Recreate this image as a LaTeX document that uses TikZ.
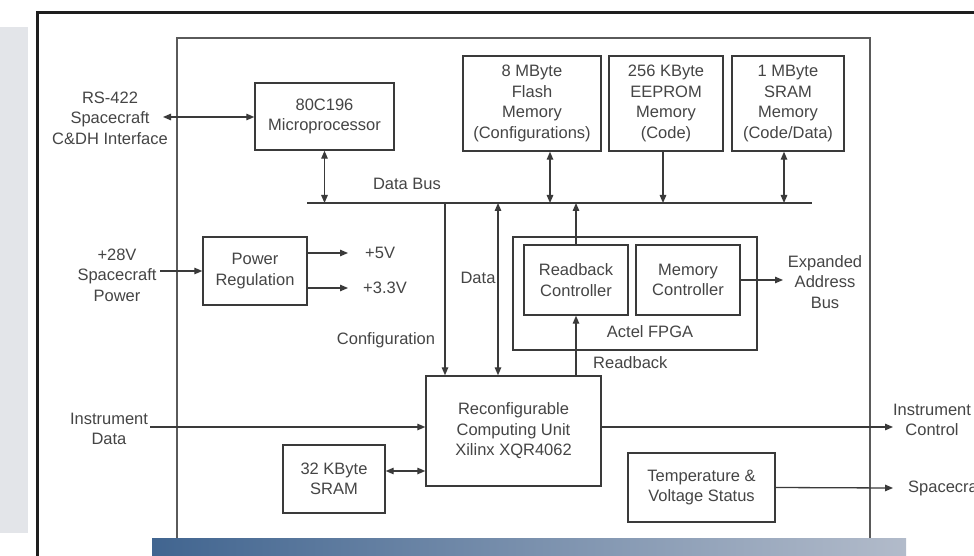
\documentclass[tikz,border=0pt]{standalone}
\usepackage{fontspec}
\setmainfont{Liberation Sans}
\usetikzlibrary{arrows.meta}
\definecolor{ink}{HTML}{3A3A3A}
\definecolor{txt}{HTML}{454545}
\definecolor{framec}{HTML}{1E1E1E}
\definecolor{band}{HTML}{E3E5E9}
\definecolor{barL}{HTML}{416590}
\definecolor{barR}{HTML}{B2BBCA}
\definecolor{innerc}{HTML}{5A5A5A}
\begin{document}
\begin{tikzpicture}[x=1pt, y=-1pt,
  lbl/.style={font=\fontsize{16.5}{20.5}\selectfont, text=txt, align=center, inner sep=0pt},
  box/.style={lbl, draw=ink, line width=1.4pt},
  conn/.style={draw=ink, line width=1.3pt},
  arr/.style={conn, -{Triangle[length=8pt,width=6.5pt]}},
  barr/.style={conn, {Triangle[length=8pt,width=6.5pt]}-{Triangle[length=8pt,width=6.5pt]}}]
\useasboundingbox (0,0) rectangle (974,556);
\clip (0,0) rectangle (974,556);
\fill[white] (0,0) rectangle (974,556);
% background
\fill[band] (0,27) rectangle (28,533);
\draw[framec, line width=3pt] (37,570) -- (37,13) -- (990,13);
\draw[innerc, line width=1.4pt] (177,545) -- (177,38) -- (870,38) -- (870,545);
\shade[left color=barL, right color=barR] (152,538) rectangle (906,556);

% boxes
\node[box, minimum width=139pt, minimum height=67pt] (micro) at (324.5,116.5) {80C196\\Microprocessor};
\node[box, minimum width=138pt, minimum height=95pt] (flash) at (532,103.5) {8 MByte\\Flash\\Memory\\(Configurations)};
\node[box, minimum width=114pt, minimum height=95pt] (eeprom) at (666,103.5) {256 KByte\\EEPROM\\Memory\\(Code)};
\node[box, minimum width=112pt, minimum height=95pt] (sramA) at (788,103.5) {1 MByte\\SRAM\\Memory\\(Code/Data)};
\node[box, minimum width=104pt, minimum height=68pt] (power) at (255,271) {Power\\Regulation};
\node[box, minimum width=244pt, minimum height=113pt] (fpga) at (635,293.5) {};
\node[box, minimum width=104pt, minimum height=70pt] (rbc) at (576,280) {Readback\\Controller};
\node[box, minimum width=104pt, minimum height=70pt] (memc) at (688,280) {Memory\\Controller};
\node[box, minimum width=175pt, minimum height=110pt] (rcu) at (513.5,431) {Reconfigurable\\Computing Unit\\Xilinx XQR4062};
\node[box, minimum width=102pt, minimum height=68pt] (sramB) at (334,479) {32 KByte\\SRAM};
\node[box, minimum width=147pt, minimum height=69pt] (temp) at (701.5,487.5) {Temperature \&\\Voltage Status};

% labels
\node[lbl] (rs) at (110,118) {RS-422\\Spacecraft\\C\&DH Interface};
\node[lbl] (p28) at (117,275) {+28V\\Spacecraft\\Power};
\node[lbl] (idata) at (109,429) {Instrument\\Data};
\node[lbl] (ebus) at (825,282) {Expanded\\Address\\Bus};
\node[lbl] (ictl) at (932,420) {Instrument\\Control};
\node[lbl, anchor=west] (sc) at (908,488) {Spacecraft};
\node[lbl] (dbus) at (407,184) {Data Bus};
\node[lbl, anchor=west] (v5) at (365,253) {+5V};
\node[lbl, anchor=west] (v33) at (363,288) {+3.3V};
\node[lbl] (datal) at (478,278) {Data};
\node[lbl] (cfgl) at (386,340) {Configuration};
\node[lbl] (actel) at (650,332) {Actel FPGA};
\node[lbl, anchor=west] (rbl) at (593,363) {Readback};

% bus
\coordinate (busL) at (307,203);
\coordinate (busR) at (812,203);
\draw[conn] (busL) -- (busR);

% bus connections
\draw[barr] (micro.south) -- (micro.south |- busL);
\draw[barr] ([xshift=18pt]flash.south) -- ([xshift=18pt]flash.south |- busL);
\draw[arr] ([xshift=-3pt]eeprom.south) -- ([xshift=-3pt]eeprom.south |- busL);
\draw[barr] ([xshift=-4pt]sramA.south) -- ([xshift=-4pt]sramA.south |- busL);
\coordinate (cfgTop) at (445,203);
\coordinate (dataTop) at (498,203);
\draw[arr] (cfgTop) -- (cfgTop |- rcu.north);
\draw[barr] (dataTop) -- (dataTop |- rcu.north);
\draw[arr] (rbc.north) -- (rbc.north |- busL);
\draw[arr] (rcu.north -| rbc) -- (rbc.south);

% external connections
\coordinate (rsEnd) at (163,117);
\draw[barr] (rsEnd) -- (rsEnd -| micro.west);
\coordinate (pIn) at (160,271);
\draw[arr] (pIn) -- (power.west);
\coordinate (v5end) at (348,253);
\coordinate (v33end) at (348,288);
\draw[arr] (v5end -| power.east) -- (v5end);
\draw[arr] (v33end -| power.east) -- (v33end);
\coordinate (ebEnd) at (783,280);
\draw[arr] (memc.east) -- (ebEnd);
\coordinate (idStart) at (150,427);
\draw[arr] (idStart) -- (idStart -| rcu.west);
\coordinate (icEnd) at (893,427);
\draw[arr] (icEnd -| rcu.east) -- (icEnd);
\coordinate (sbY) at (0,471);
\draw[barr] (sbY -| sramB.east) -- (sbY -| rcu.west);
\coordinate (scEnd) at (893,488);
\draw[arr] (temp.east) -- (scEnd);
\end{tikzpicture}
\end{document}
